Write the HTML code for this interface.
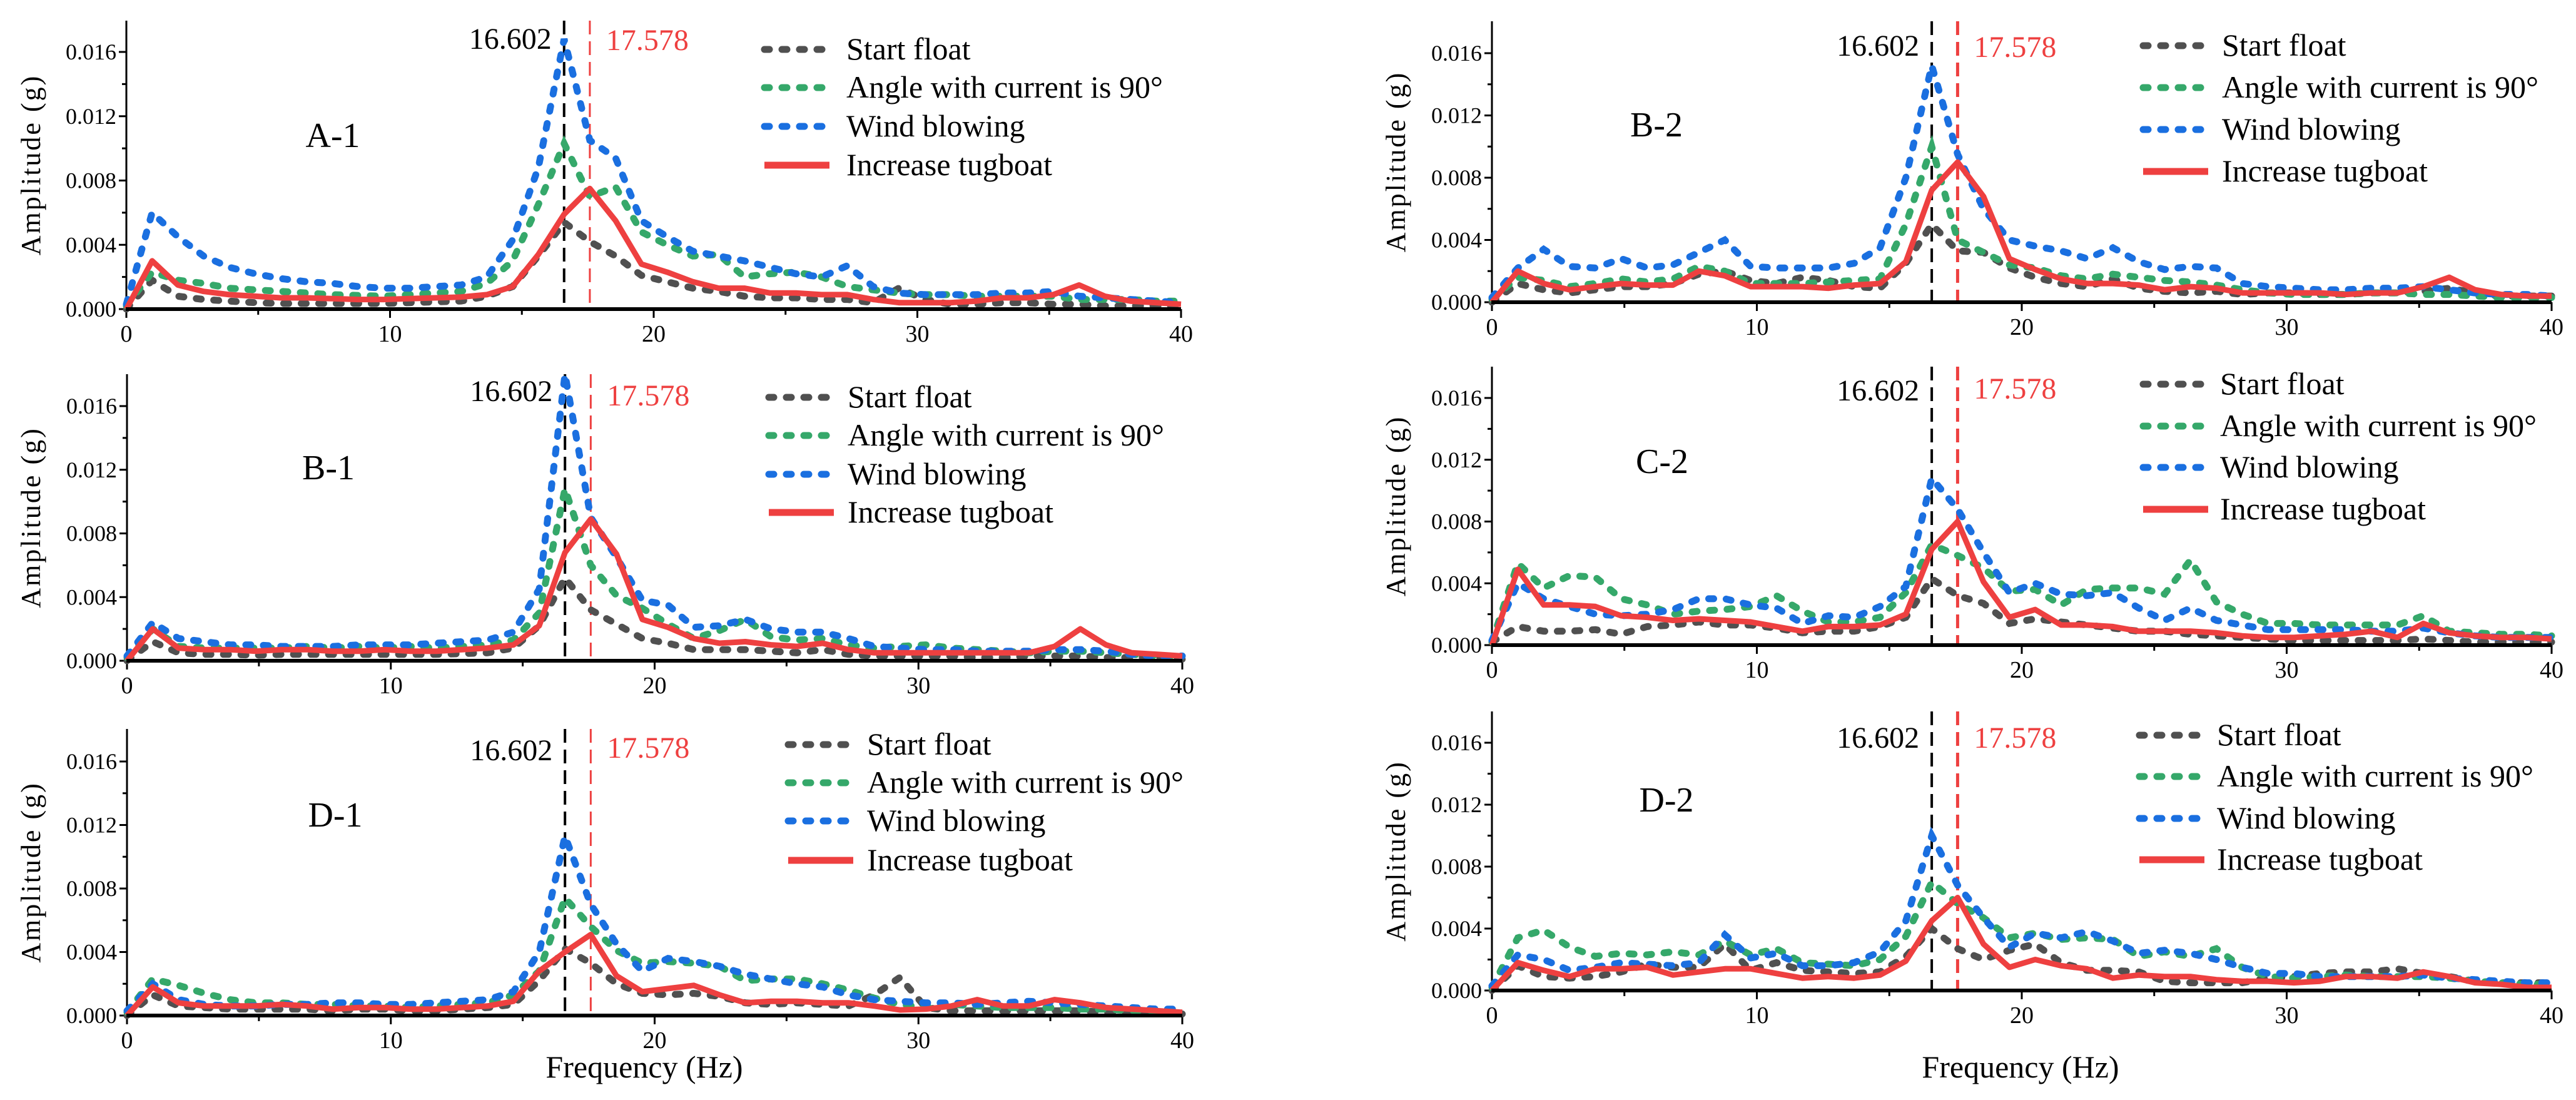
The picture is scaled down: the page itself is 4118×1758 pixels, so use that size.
<!DOCTYPE html>
<html><head><meta charset="utf-8"><style>
html,body{margin:0;padding:0;background:#fff;}
svg{display:block;}
text{font-family:"Liberation Serif","DejaVu Serif",serif;}
</style></head><body>
<svg id="chart" width="4118" height="1758" viewBox="0 0 4118 1758" xmlns="http://www.w3.org/2000/svg" font-family="Liberation Serif, serif"></svg>
<script>
// ---- data (amplitude in 0.001 g), frequency step 0.9766 Hz ----
const freqStep = 0.9766;
const seriesNames = ["Start float","Angle with current is 90°","Wind blowing","Increase tugboat"];
const markerLines = [16.602, 17.578];
const xTickLabels = ["0","10","20","30","40"];
const yTickLabels = ["0.000","0.004","0.008","0.012","0.016"];
const panelLabels = ["A-1","B-1","D-1","B-2","C-2","D-2"];

const a1Gray  = [0,1.8,0.8,0.6,0.5,0.4,0.35,0.35,0.35,0.35,0.35,0.4,0.45,0.5,0.8,1.4,3.3,5.4,4.2,3.3,2.1,1.7,1.3,1.1,0.8,0.7,0.7,0.6,0.6,0.4,1.3,0.6,0.3,0.3,0.4,0.4,0.3,0.3,0.2,0.2,0.2,0.2];
const a1Green = [0.2,2.3,1.8,1.6,1.3,1.2,1.1,1.0,0.9,0.85,0.8,0.9,1.0,1.1,1.6,3.0,6.5,10.3,7.0,7.6,4.8,4.0,3.3,3.4,2.0,2.2,2.3,2.0,1.4,1.2,1.0,0.9,0.9,0.8,0.8,0.8,0.8,0.6,0.6,0.6,0.5,0.5];
const a1Blue  = [0.3,6.0,4.5,3.3,2.6,2.2,1.9,1.7,1.6,1.4,1.3,1.3,1.4,1.5,2.0,4.3,8.8,16.8,10.5,9.4,5.5,4.5,3.6,3.3,3.0,2.6,2.2,2.0,2.7,1.4,1.0,0.9,0.9,0.9,1.0,1.0,1.1,0.8,0.7,0.6,0.5,0.4];
const a1Red   = [0,3.0,1.5,1.1,0.9,0.8,0.7,0.7,0.65,0.6,0.6,0.65,0.7,0.75,0.9,1.4,3.4,5.9,7.5,5.5,2.8,2.3,1.7,1.3,1.3,1.0,1.0,0.9,0.9,0.6,0.4,0.4,0.4,0.5,0.7,0.7,0.9,1.5,0.8,0.5,0.4,0.3];

const b1Gray  = [0,1.2,0.5,0.4,0.4,0.35,0.4,0.4,0.4,0.4,0.4,0.4,0.4,0.45,0.5,0.8,2.2,5.2,3.2,2.3,1.4,1.1,0.7,0.7,0.7,0.6,0.5,0.7,0.4,0.3,0.3,0.3,0.3,0.2,0.2,0.3,0.3,0.3,0.2,0.2,0.2,0.1];
const b1Green = [0.2,2.0,0.9,0.8,0.8,0.8,0.8,0.9,0.8,0.9,0.8,0.9,0.8,0.9,1.0,1.3,3.0,10.8,6.0,4.1,3.3,2.3,1.4,1.9,2.6,1.5,1.3,1.4,1.0,0.8,0.9,1.0,0.8,0.7,0.6,0.5,0.6,0.6,0.5,0.4,0.3,0.3];
const b1Blue  = [0.3,2.4,1.4,1.2,1.0,1.0,0.9,0.9,0.9,1.0,1.0,1.0,1.1,1.2,1.3,1.8,4.5,18,9.0,6.5,3.8,3.5,2.1,2.2,2.6,2.0,1.8,1.8,1.4,0.9,0.8,0.7,0.7,0.6,0.6,0.6,0.7,0.7,0.6,0.4,0.3,0.3];
const b1Red   = [0,2.0,0.8,0.7,0.7,0.6,0.7,0.7,0.6,0.6,0.7,0.6,0.6,0.7,0.8,1.0,2.2,6.8,8.9,6.7,2.6,2.1,1.4,1.1,1.2,1.0,0.9,1.1,0.7,0.5,0.5,0.5,0.5,0.5,0.5,0.5,0.9,2.0,1.0,0.5,0.4,0.3];

const d1Gray  = [0,1.3,0.6,0.5,0.4,0.4,0.4,0.4,0.3,0.4,0.4,0.3,0.3,0.4,0.5,0.7,2.2,4.2,3.3,2.0,1.4,1.3,1.4,1.2,0.8,0.7,0.8,0.7,0.6,1.3,2.4,0.5,0.3,0.3,0.3,0.3,0.3,0.3,0.2,0.2,0.1,0.1];
const d1Green = [0.2,2.3,1.9,1.4,1.0,0.8,0.8,0.7,0.7,0.6,0.6,0.5,0.6,0.7,0.8,1.3,2.8,7.4,5.6,4.1,3.3,3.4,3.3,3.1,2.2,2.3,2.3,2.0,1.6,1.1,0.7,0.5,0.7,0.6,0.5,0.5,0.5,0.4,0.4,0.3,0.3,0.2];
const d1Blue  = [0.3,2.0,1.0,0.7,0.6,0.6,0.7,0.7,0.8,0.8,0.7,0.7,0.8,0.9,1.0,1.5,4.0,11.3,7.0,4.5,2.8,3.6,3.4,3.1,2.6,2.3,2.0,1.8,1.3,1.0,0.9,0.8,0.8,0.7,0.8,0.9,0.8,0.7,0.6,0.5,0.4,0.4];
const d1Red   = [0,1.8,0.8,0.6,0.6,0.6,0.7,0.6,0.4,0.5,0.5,0.4,0.4,0.5,0.6,0.9,2.8,4.0,5.1,2.5,1.5,1.7,1.9,1.3,0.8,0.9,0.9,0.8,0.8,0.6,0.35,0.4,0.6,1.0,0.6,0.6,1.0,0.8,0.5,0.4,0.3,0.2];

const b2Gray  = [0,1.2,0.8,0.6,0.8,1.0,1.0,1.2,1.8,2.0,1.4,1.2,1.6,1.4,1.0,0.9,2.5,5.0,3.3,3.2,2.2,1.6,1.2,1.0,1.5,0.9,0.7,0.6,0.7,0.5,0.6,0.6,0.5,0.5,0.6,0.6,0.7,0.9,0.6,0.4,0.4,0.4];
const b2Green = [0.2,1.6,1.4,1.0,1.2,1.5,1.3,1.5,2.3,2.0,1.2,1.2,1.2,1.3,1.4,1.5,5.0,10.0,4.0,3.2,2.4,2.2,1.7,1.5,1.8,1.6,1.4,1.3,1.1,0.8,0.6,0.5,0.5,0.5,0.6,0.6,0.5,0.5,0.4,0.3,0.3,0.3];
const b2Blue  = [0.3,2.2,3.4,2.3,2.2,2.8,2.2,2.4,3.2,4.0,2.3,2.2,2.2,2.2,2.5,3.5,8.0,15.2,9.5,6.0,4.0,3.6,3.3,2.8,3.5,2.6,2.1,2.3,2.2,1.2,1.0,0.9,0.8,0.8,0.9,0.9,1.0,0.8,0.6,0.5,0.5,0.4];
const b2Red   = [0,2.0,1.2,0.8,1.0,1.2,1.1,1.1,2.0,1.7,1.0,1.0,1.0,0.9,1.1,1.2,2.6,7.2,9.0,6.8,2.8,2.1,1.5,1.2,1.2,1.1,0.8,1.0,0.9,0.6,0.6,0.6,0.6,0.5,0.6,0.6,1.0,1.6,0.8,0.5,0.4,0.4];

const c2Gray  = [0.2,1.2,0.9,0.9,1.0,0.7,1.2,1.3,1.5,1.3,1.3,1.1,0.8,0.9,0.9,1.2,1.8,4.3,3.2,2.7,1.4,1.7,1.5,1.3,1.1,0.9,0.9,0.7,0.6,0.5,0.4,0.3,0.3,0.3,0.3,0.3,0.4,0.3,0.2,0.2,0.2,0.2];
const c2Green = [0.2,5.3,3.7,4.5,4.4,3.0,2.6,2.0,2.2,2.3,2.5,3.2,2.2,1.5,1.5,1.8,3.4,6.5,5.8,5.0,3.5,3.6,2.6,3.6,3.7,3.7,3.3,5.5,2.8,2.0,1.4,1.4,1.3,1.3,1.3,1.3,1.9,0.9,0.8,0.7,0.7,0.6];
const c2Blue  = [0.3,4.0,3.0,2.5,2.0,1.9,2.0,2.3,3.0,3.0,2.6,2.4,1.4,1.9,1.8,2.5,3.8,10.8,8.8,6.0,3.4,4.0,3.3,3.2,3.4,2.4,1.6,2.4,1.6,1.3,1.0,1.0,1.0,1.0,0.9,0.9,1.1,0.8,0.6,0.5,0.5,0.5];
const c2Red   = [0,4.9,2.6,2.6,2.5,1.9,1.8,1.6,1.7,1.6,1.5,1.2,0.9,1.2,1.2,1.3,2.0,6.2,8.0,4.1,1.8,2.3,1.3,1.3,1.2,0.9,0.9,0.9,0.8,0.6,0.5,0.5,0.6,0.7,0.9,0.5,1.4,0.8,0.6,0.5,0.5,0.4];

const d2Gray  = [0,1.6,0.9,0.8,0.9,1.2,1.7,1.5,1.5,3.0,1.3,1.8,1.3,1.2,1.1,1.2,2.2,4.0,2.7,2.0,2.6,3.0,1.8,1.3,1.3,1.2,0.6,0.5,0.5,0.5,0.8,0.9,1.1,1.2,1.2,1.4,1.1,0.9,0.6,0.5,0.5,0.5];
const d2Green = [0.2,3.4,3.9,2.8,2.2,2.4,2.3,2.5,2.3,3.2,2.3,2.7,1.8,1.7,1.6,2.0,3.5,7.0,5.6,4.7,3.4,3.7,3.3,3.4,3.3,2.2,2.5,2.2,2.7,1.5,0.9,0.8,0.9,1.0,0.9,0.9,0.9,0.8,0.6,0.5,0.4,0.4];
const d2Blue  = [0.3,2.3,2.0,1.3,1.5,1.8,1.7,1.6,1.8,3.6,2.1,2.4,1.6,1.6,1.8,2.5,4.5,10.0,6.8,4.7,2.8,3.7,3.4,3.8,3.2,2.4,2.6,2.4,2.0,1.5,1.1,1.1,0.9,0.9,0.9,0.9,1.0,0.8,0.7,0.6,0.5,0.5];
const d2Red   = [0,1.8,1.3,0.9,1.4,1.4,1.5,1.0,1.2,1.4,1.4,1.1,0.8,0.9,0.8,1.0,1.9,4.5,6.0,3.0,1.5,2.0,1.6,1.4,0.8,1.0,0.9,0.9,0.7,0.6,0.6,0.5,0.6,0.9,0.9,0.8,1.2,0.9,0.5,0.4,0.2,0.2];

const panelSeries = [
  [a1Gray,a1Green,a1Blue,a1Red],
  [b1Gray,b1Green,b1Blue,b1Red],
  [d1Gray,d1Green,d1Blue,d1Red],
  [b2Gray,b2Green,b2Blue,b2Red],
  [c2Gray,c2Green,c2Blue,c2Red],
  [d2Gray,d2Green,d2Blue,d2Red]
];

// ---- layout ----
const layout = [
  {x0:202,x1:1888,y0:494,y16:83,top:33, lab:[532,235], legX:1214,legT:1353,legY:[79,140,202,264], ann:[880,78,970,80], redW:3, id:"a1"},
  {x0:203,x1:1890,y0:1056,y16:649,top:598, lab:[525,766], legX:1221,legT:1355,legY:[635,696,758,819], ann:[887,641,967,648], redW:3, id:"b1"},
  {x0:203,x1:1890,y0:1623,y16:1217,top:1165, lab:[536,1321], legX:1252,legT:1386,legY:[1190,1251,1312,1375], ann:[898,1215,978,1211], redW:3, id:"d1"},
  {x0:2385,x1:4079,y0:483,y16:85,top:34, lab:[2648,218], legX:3418,legT:3552,legY:[73,140,207,274], ann:[3064,89,3149,91], redW:5, id:"b2"},
  {x0:2385,x1:4079,y0:1031,y16:636,top:586, lab:[2657,756], legX:3418,legT:3549,legY:[614,681,747,814], ann:[3059,640,3151,637], redW:5, id:"c2"},
  {x0:2385,x1:4079,y0:1583,y16:1187,top:1137, lab:[2664,1297], legX:3412,legT:3544,legY:[1175,1241,1308,1374], ann:[3067,1195,3151,1195], redW:5, id:"d2"}
];
const colors = ["#505050","#35a86a","#1a6fe0","#ee4040"];
const FONT = "Liberation Serif, DejaVu Serif, serif";
const NS = "http://www.w3.org/2000/svg";
const svg = document.getElementById("chart");

function mk(tag, attrs, parent, text){
  const e = document.createElementNS(NS, tag);
  for (const k in attrs) e.setAttribute(k, attrs[k]);
  if (tag === "text") e.setAttribute("font-family", FONT);
  if (text !== undefined) e.textContent = text;
  (parent||svg).appendChild(e);
  return e;
}
function lineStyle(i){
  if (i===3) return {stroke:colors[i],"stroke-width":9,fill:"none","stroke-linejoin":"round"};
  return {stroke:colors[i],"stroke-width":11,fill:"none","stroke-dasharray":"8 20","stroke-linecap":"round"};
}

layout.forEach((L, p) => {
  const g = mk("g", {});
  
  
  const sx = f => L.x0 + (Math.min(f,40)/40)*(L.x1-L.x0);
  const sy = v => L.y0 - (v/16)*(L.y0-L.y16);

  const ya = mk("line", {x1:L.x0,y1:L.top,x2:L.x0,y2:L.y0,stroke:"#000","stroke-width":3}, g);
  
  
  for (let v=0; v<=17; v+=2){
    const major = v%4===0;
    mk("line",{x1:L.x0-(major?12:7),y1:sy(v),x2:L.x0,y2:sy(v),stroke:"#000","stroke-width":3},g);
  }
  yTickLabels.forEach((t,i)=>{
    const tl = mk("text",{x:L.x0-16,y:sy(i*4)+12,"text-anchor":"end","font-size":36},g,t);
    
    
  });
  for (let f=0; f<=40; f+=5){
    const major = f%10===0;
    mk("line",{x1:sx(f),y1:L.y0,x2:sx(f),y2:L.y0+(major?14:9),stroke:"#000","stroke-width":3},g);
  }
  xTickLabels.forEach((t,i)=>{
    const tl = mk("text",{x:sx(i*10),y:L.y0+52,"text-anchor":"middle","font-size":38},g,t);
    
    
  });

  const bl = mk("line",{x1:sx(markerLines[0]),y1:L.top,x2:sx(markerLines[0]),y2:L.y0,stroke:"#000","stroke-width":4,"stroke-dasharray":"22 11"},g);
  
  
  const rl = mk("line",{x1:sx(markerLines[1]),y1:L.top,x2:sx(markerLines[1]),y2:L.y0,stroke:"#ee4040","stroke-width":L.redW,"stroke-dasharray":"22 11"},g);
  
  
  const a1 = mk("text",{x:sx(markerLines[0])-20,y:L.ann[1],"text-anchor":"end","font-size":48},g,markerLines[0].toFixed(3));
  
  
  const a2 = mk("text",{x:sx(markerLines[1])+26,y:L.ann[3],"font-size":48,fill:"#ee4040"},g,markerLines[1].toFixed(3));
  
  

  panelSeries[p].forEach((arr, i) => {
    const pts = arr.map((v,k)=> sx(k*freqStep).toFixed(1)+","+sy(v).toFixed(1)).join(" ");
    const pl = mk("polyline", Object.assign({points:pts}, lineStyle(i)), g);
    
    
  });

  const xa = mk("line", {x1:L.x0-1,y1:L.y0,x2:L.x1,y2:L.y0,stroke:"#000","stroke-width":6}, g);
  
  

  const pl = mk("text",{x:L.lab[0],y:L.lab[1],"text-anchor":"middle","font-size":56},g,panelLabels[p]);
  
  

  seriesNames.forEach((n,i)=>{
    const le = mk("g",{},g);
    
    
    const st = lineStyle(i);
    if (i===3) st["stroke-width"] = 11;
    mk("line", Object.assign({x1:L.legX+8,y1:L.legY[i],x2:L.legX+112,y2:L.legY[i]}, st), le);
    mk("text",{x:L.legT,y:L.legY[i]+16,"font-size":50},le,n);
  });

  const cx = L.x0 < 1000 ? 49 : 2231;
  const cy = (L.top + L.y0)/2;
  const yt = mk("text",{x:cx,y:cy+15,"text-anchor":"middle","font-size":44,"letter-spacing":"3",transform:`rotate(-90 ${cx} ${cy})`},g,"Amplitude (g)");
  
  
});

const xt1 = mk("text",{x:1030,y:1722,"text-anchor":"middle","font-size":50},svg,"Frequency (Hz)");


const xt2 = mk("text",{x:3230,y:1722,"text-anchor":"middle","font-size":50},svg,"Frequency (Hz)");


</script>
</body></html>
